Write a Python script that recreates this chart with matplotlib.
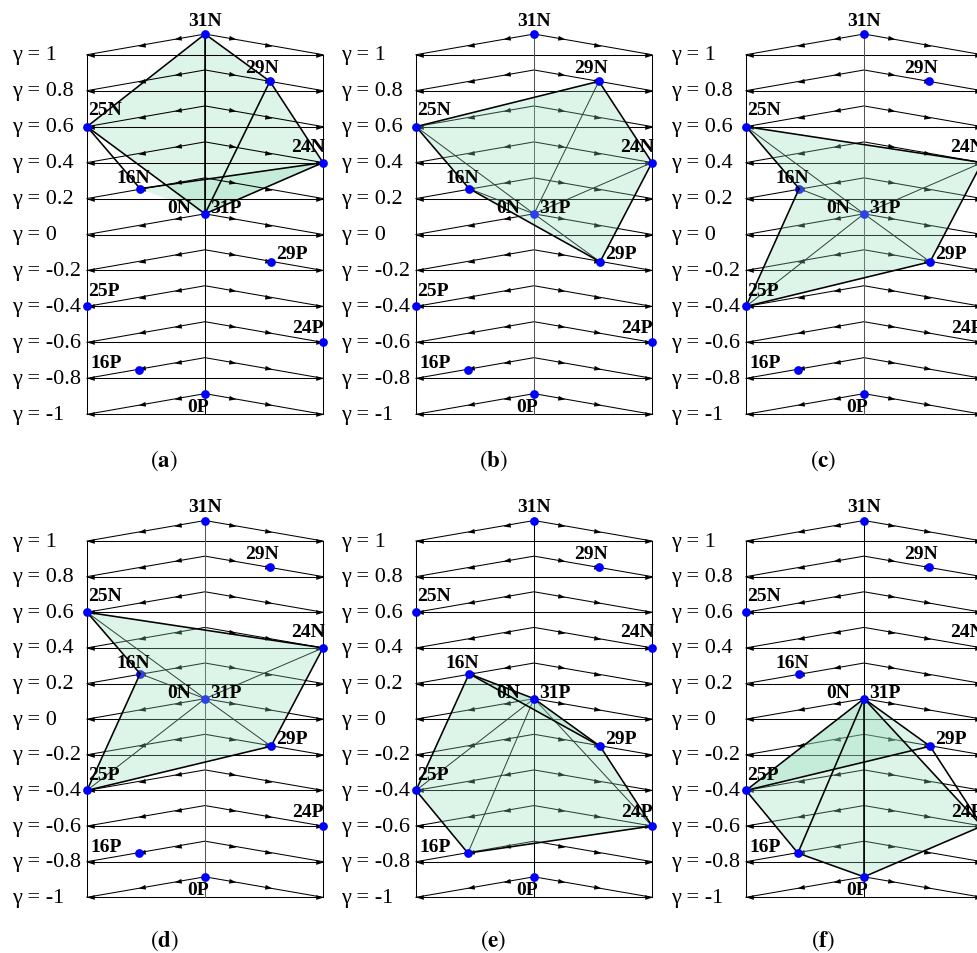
import numpy as np
import matplotlib
matplotlib.use("Agg")
import matplotlib.pyplot as plt
from matplotlib.markers import MarkerStyle
from matplotlib.path import Path
from matplotlib.transforms import Affine2D

# ---------------- data ----------------
GAMMA_LEVELS = [1, 0.8, 0.6, 0.4, 0.2, 0, -0.2, -0.4, -0.6, -0.8, -1]
GAMMA_LABELS = ["1", "0.8", "0.6", "0.4", "0.2", "0", "-0.2", "-0.4", "-0.6", "-0.8", "-1"]
ROOF_RISE = 0.115

NODE_NAMES = ["31N", "29N", "25N", "24N", "16N", "31P", "29P", "25P", "24P", "16P", "0P"]
NODE_X = [0, 0.55, -1, 1, -0.55, 0, 0.56, -1, 1, -0.56, 0]
NODE_GAMMA = [1.115, 0.852, 0.6, 0.4, 0.255, 0.115, -0.152, -0.4, -0.6, -0.752, -0.885]

# label text, node, dx(px), dy(px), ha
NODE_LABELS = [
    ("31N", "31N", 0, 14, "center"),
    ("29N", "29N", -8, 14, "center"),
    ("25N", "25N", 1, 17, "left"),
    ("24N", "24N", 2, 16, "right"),
    ("16N", "16N", -7, 11, "center"),
    ("31P", "31P", 5, 6, "left"),
    ("0N", "31P", -14, 6, "right"),
    ("29P", "29P", 5, 8, "left"),
    ("25P", "25P", 1, 16, "left"),
    ("24P", "24P", 1, 15, "right"),
    ("16P", "16P", -17, 7, "right"),
    ("0P", "0P", -7, -13, "center"),
]

PANEL_TAGS = ["a", "b", "c", "d", "e", "f"]
PANEL_FILLS = {
    "a": [["31N", "29N", "24N", "31P", "25N"], ["16N", "24N", "31P"]],
    "b": [["25N", "29N", "24N", "29P", "16N"]],
    "c": [["25N", "24N", "29P", "25P", "16N"]],
    "d": [["25N", "24N", "29P", "25P", "16N"]],
    "e": [["16N", "31P", "29P", "24P", "16P", "25P"], ["16N", "31P", "29P"]],
    "f": [["31P", "24P", "0P", "16P", "25P"], ["25P", "29P", "31P"]],
}
PANEL_THICK = {
    "a": [("31N", "25N"), ("31N", "29N"), ("29N", "24N"), ("24N", "31P"), ("31P", "25N"),
          ("25N", "16N"), ("16N", "24N"), ("29N", "31P"), ("31N", "31P")],
    "b": [("25N", "29N"), ("29N", "24N"), ("24N", "29P"), ("29P", "16N"), ("16N", "25N")],
    "c": [("25N", "24N"), ("24N", "29P"), ("29P", "25P"), ("25P", "16N"), ("16N", "25N")],
    "d": [("25N", "24N"), ("24N", "29P"), ("29P", "25P"), ("25P", "16N"), ("16N", "25N")],
    "e": [("16N", "31P"), ("16N", "29P"), ("31P", "29P"), ("29P", "24P"), ("24P", "16P"),
          ("16P", "25P"), ("25P", "16N")],
    "f": [("31P", "25P"), ("31P", "29P"), ("29P", "24P"), ("24P", "0P"), ("0P", "16P"),
          ("16P", "25P"), ("31P", "16P"), ("31P", "24P"), ("25P", "29P"), ("31P", "0P")],
}
PANEL_THIN = {
    "a": [],
    "b": [("31P", "25N"), ("31P", "29N"), ("31P", "24N"), ("31P", "29P"), ("31P", "16N")],
    "c": [("31P", "25N"), ("31P", "24N"), ("31P", "29P"), ("31P", "25P"), ("31P", "16N")],
    "d": [("31P", "25N"), ("31P", "24N"), ("31P", "29P"), ("31P", "25P"), ("31P", "16N")],
    "e": [("31P", "25P"), ("31P", "16P"), ("31P", "24P")],
    "f": [],
}
PANEL_DIM = {"a": [], "b": ["31P"], "c": ["31P", "16N"], "d": ["31P", "16N"],
             "e": [], "f": []}

# ---------------- layout ----------------
W, H = 978, 954
fig = plt.figure(figsize=(W / 100, H / 100), dpi=100)
plt.rcParams["mathtext.fontset"] = "stix"

SERIF = ["Liberation Serif", "DejaVu Serif"]
PANEL_LEFT = {"a": 87, "b": 416, "c": 746, "d": 87, "e": 416, "f": 746}
PANEL_TOPBOT = {"a": (55.7, 415.3), "b": (55.7, 415.3), "c": (55.7, 415.3),
                "d": (542, 898.3), "e": (542, 898.3), "f": (542, 898.3)}
CAPTION_Y = {"a": 461, "b": 461, "c": 461, "d": 941, "e": 941, "f": 941}
PW = 236

node = {n: (x, g) for n, x, g in zip(NODE_NAMES, NODE_X, NODE_GAMMA)}

arrow_path = Path([(0, 0), (-1, 0.33), (-1, -0.33), (0, 0)],
                  [Path.MOVETO, Path.LINETO, Path.LINETO, Path.CLOSEPOLY])


def arrow_marker(angle):
    return MarkerStyle(arrow_path, transform=Affine2D().rotate_deg(angle))


FILL_COLOR = "#8fdcb4"
DOT_COLOR = "#0000ff"

for tag in PANEL_TAGS:
    L = PANEL_LEFT[tag]
    T, B = PANEL_TOPBOT[tag]
    ax = fig.add_axes([L / W, 1 - B / H, PW / W, (B - T) / H])
    ax.set_xlim(-1, 1)
    ax.set_ylim(-1, 1)
    ax.axis("off")

    px_x = PW / 2.0
    px_g = (B - T) / 2.0
    a = np.degrees(np.arctan(ROOF_RISE * px_g / px_x))

    center_col = "#555555" if tag in ("b", "c", "d") else "black"

    # grid: horizontal lines + roofs
    lx, ly, rx, ry, ex_l, ey_l, ex_r, ey_r = [], [], [], [], [], [], [], []
    for g in GAMMA_LEVELS:
        ax.plot([-1, 1], [g, g], color="black", lw=0.75, zorder=1, clip_on=False)
        ax.plot([-1, 0, 1], [g, g + ROOF_RISE, g], color="black", lw=0.75,
                zorder=1, clip_on=False)
        for x in (-0.26, -0.57):
            lx.append(x)
            ly.append(g + ROOF_RISE * (1 + x))
        for x in (0.26, 0.57):
            rx.append(x)
            ry.append(g + ROOF_RISE * (1 - x))
        ex_l.append(-1)
        ey_l.append(g)
        ex_r.append(1)
        ey_r.append(g)
    ms = 10.5
    ax.plot(lx, ly, ls="none", marker=arrow_marker(180 + a), ms=ms, color="black",
            mew=0, zorder=1.1, clip_on=False)
    ax.plot(rx, ry, ls="none", marker=arrow_marker(-a), ms=ms, color="black",
            mew=0, zorder=1.1, clip_on=False)
    ax.plot(ex_l, ey_l, ls="none", marker=arrow_marker(180), ms=ms, color="black",
            mew=0, zorder=1.1, clip_on=False)
    ax.plot(ex_r, ey_r, ls="none", marker=arrow_marker(0), ms=ms, color="black",
            mew=0, zorder=1.1, clip_on=False)

    # vertical lines
    ax.plot([-1, -1], [-1, 1], color="black", lw=0.75, zorder=1, clip_on=False)
    ax.plot([1, 1], [-1, 1], color="black", lw=0.75, zorder=1, clip_on=False)
    ax.plot([0, 0], [-1, 1 + ROOF_RISE], color=center_col, lw=0.75, zorder=1,
            clip_on=False)

    # filled faces
    fill_z = 0.5 if tag == "a" else 2
    for poly in PANEL_FILLS[tag]:
        xs = [node[n][0] for n in poly]
        ys = [node[n][1] for n in poly]
        ax.fill(xs, ys, color=FILL_COLOR, alpha=0.3, lw=0, zorder=fill_z,
                clip_on=False)

    for n1, n2 in PANEL_THIN[tag]:
        ax.plot([node[n1][0], node[n2][0]], [node[n1][1], node[n2][1]],
                color="black", lw=0.7, zorder=1.2, clip_on=False)
    for n1, n2 in PANEL_THICK[tag]:
        ax.plot([node[n1][0], node[n2][0]], [node[n1][1], node[n2][1]],
                color="black", lw=1.15, zorder=3, clip_on=False)

    # dots
    for n in NODE_NAMES:
        z = 1.5 if n in PANEL_DIM[tag] else 4
        ax.plot([node[n][0]], [node[n][1]], "o", color=DOT_COLOR, ms=6.3, mew=0,
                zorder=z, clip_on=False)

    # node labels
    for txt, n, dx, dy, ha in NODE_LABELS:
        ax.annotate(txt, xy=node[n], xytext=(dx, dy), textcoords="offset pixels",
                    ha=ha, va="center", fontsize=14, fontweight="bold",
                    family=SERIF, zorder=5, annotation_clip=False)

    # gamma labels
    for g, lab in zip(GAMMA_LEVELS, GAMMA_LABELS):
        fig.text((L - 75) / W, 1 - (T + (1 - g) * px_g) / H, "\u03b3 = " + lab,
                 ha="left", va="center", fontsize=16, family=SERIF)

    # caption
    fig.text((L + 77) / W, 1 - CAPTION_Y[tag] / H, r"$(\mathbf{%s})$" % tag,
             ha="center", va="center", fontsize=16.5)

fig.savefig("out.png", dpi=100)
